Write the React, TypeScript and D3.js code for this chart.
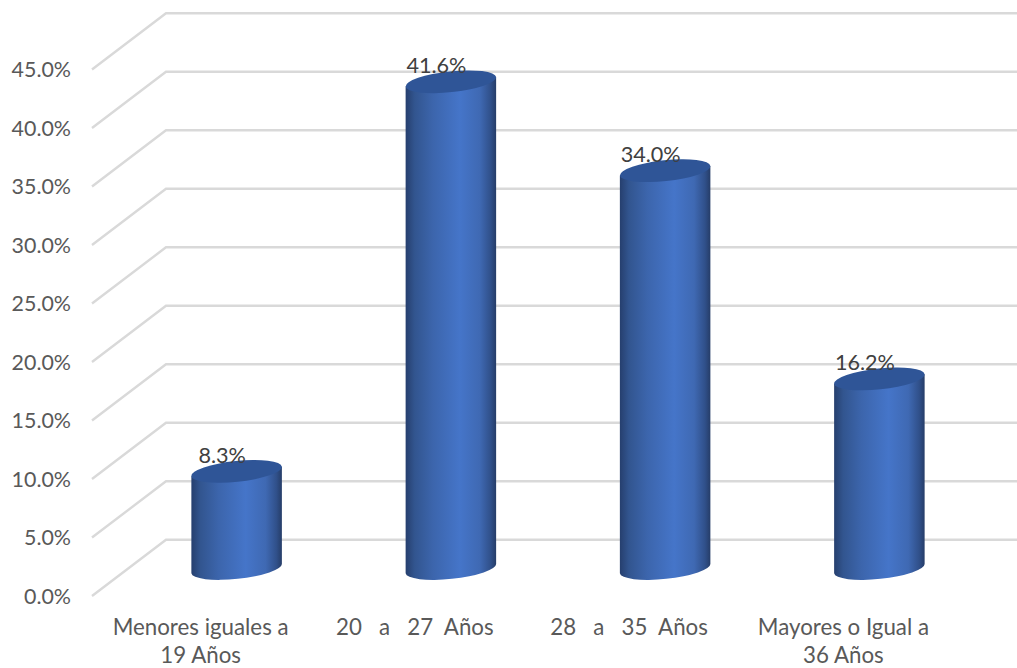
import React from "react";
import * as d3 from "d3";

const categories = ["Menores iguales a|19 Años", "20   a   27  Años", "28   a   35  Años", "Mayores o Igual a|36 Años"];
const shares = [8.3, 41.6, 34.0, 16.2];
const tickValues = [0, 5, 10, 15, 20, 25, 30, 35, 40, 45];

const W = 1017;
const H = 668;
const FONT = "Lato, 'Open Sans', sans-serif";

// Value axis on the front wall; the back wall is the same scale shifted by the depth offset.
const yFront = d3.scaleLinear().domain([0, 45]).range([596, 69.5]);
const depthX = 74;
const depthY = -56.2;
const xFront = 92;
const yBase = 568.5; // centre of the cylinder floors
const x = d3.scaleBand<string>().domain(categories).range([129.5, 986.5]);

const RX = 45.5;
const RY = 10.4;
const TILT = -6;
const tiltRad = (TILT * Math.PI) / 180;
const edgeDx = RX * Math.cos(tiltRad);
const edgeDy = RX * Math.sin(tiltRad);

function cylinderBody(cx: number, top: number, bottom: number) {
  const path = d3.path();
  path.moveTo(cx - edgeDx, top - edgeDy);
  path.lineTo(cx - edgeDx, bottom - edgeDy);
  const lowerArc = `A${RX},${RY} ${TILT} 0 0 ${cx + edgeDx},${bottom + edgeDy}`;
  return `${path.toString()}${lowerArc}L${cx + edgeDx},${top + edgeDy}Z`;
}

export default function App() {
  const unit = yFront(0) - yFront(1);
  return (
    <svg
      width={W}
      height={H}
      viewBox={`0 0 ${W} ${H}`}
      style={{ position: "absolute", left: 0, top: 0, background: "#fff" }}
      fontFamily={FONT}
    >
      <defs>
        <linearGradient id="cylinderShade" x1="0" x2="1" y1="0" y2="0">
          <stop offset="0" stopColor="#263f6e" />
          <stop offset="0.1" stopColor="#32558f" />
          <stop offset="0.3" stopColor="#3c65ac" />
          <stop offset="0.6" stopColor="#4575c9" />
          <stop offset="0.82" stopColor="#3f69b3" />
          <stop offset="0.94" stopColor="#30508a" />
          <stop offset="1" stopColor="#263d68" />
        </linearGradient>
      </defs>

      {tickValues.map((t) => {
        const y = yFront(t);
        return (
          <g key={t}>
            <path
              d={`M${xFront},${y}L${xFront + depthX},${y + depthY}L${W},${y + depthY}`}
              fill="none"
              stroke="#d9d9d9"
              strokeWidth={2.4}
            />
            <text x={71} y={y + 7.5} textAnchor="end" fontSize={21.4} fill="#595959">
              {d3.format(".1f")(t)}%
            </text>
          </g>
        );
      })}

      {categories.map((c, i) => {
        const cx = x(c)! + x.bandwidth() / 2;
        const top = yBase - shares[i] * unit;
        return (
          <g key={c}>
            <path d={cylinderBody(cx, top, yBase)} fill="url(#cylinderShade)" />
            <ellipse
              cx={cx}
              cy={top}
              rx={RX}
              ry={RY}
              transform={`rotate(${TILT} ${cx} ${top})`}
              fill="#2f5597"
            />
            <text
              x={cx - 14.5}
              y={top - 8.5}
              textAnchor="middle"
              fontSize={21.6}
              fill="#404040"
            >
              {d3.format(".1f")(shares[i])}%
            </text>
            {c.split("|").map((line, k) => (
              <text
                key={k}
                x={cx - 36}
                y={634.5 + k * 28}
                textAnchor="middle"
                fontSize={22.3}
                fill="#595959"
                style={{ whiteSpace: "pre" }}
              >
                {line}
              </text>
            ))}
          </g>
        );
      })}
    </svg>
  );
}
